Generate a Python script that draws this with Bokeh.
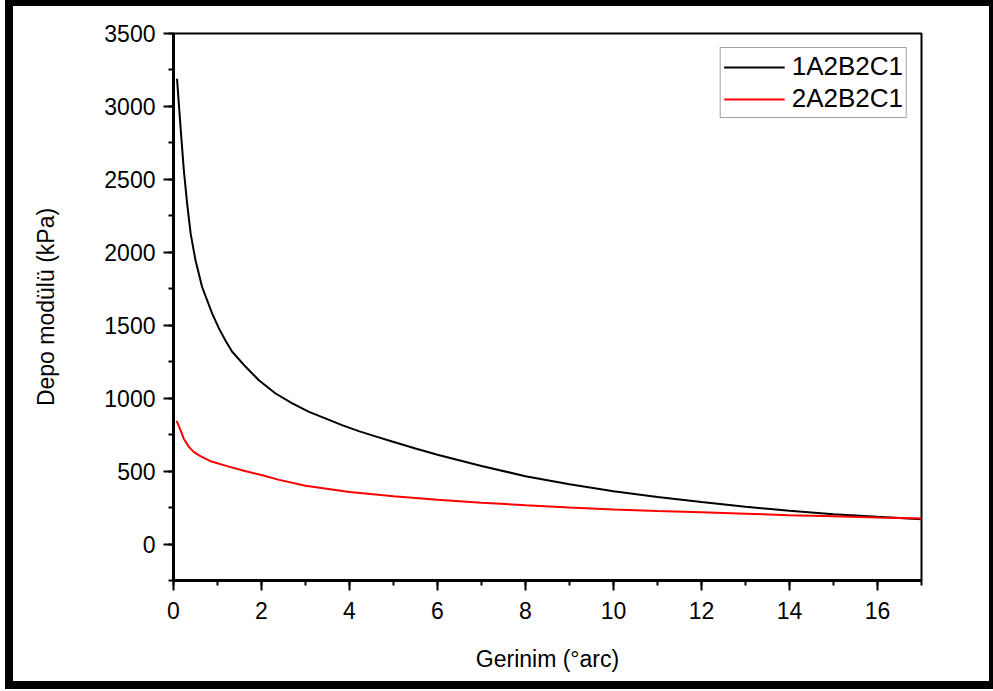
from bokeh.plotting import figure
from bokeh.models import Legend, LegendItem, FixedTicker, Range1d
from bokeh.embed import file_html
from bokeh.resources import INLINE

# Storage modulus vs. strain for the two formulations
strain_1 = [0.08, 0.16, 0.235, 0.31, 0.39, 0.5, 0.65, 0.88, 1.03, 1.18, 1.33, 1.64, 1.94, 2.32,
            2.70, 3.08, 3.45, 3.83, 4.21, 4.59, 4.97, 5.5, 6.0, 7.0, 8.0, 9.0, 10.0,
            11.0, 12.0, 13.0, 14.0, 15.0, 16.0, 17.0]
modulus_1 = [3190, 2858, 2562, 2334, 2128, 1945, 1762, 1580, 1480, 1395, 1320, 1215, 1123, 1032,
             964, 906, 861, 815, 774, 738, 703, 655, 612, 535, 465, 410, 362,
             322, 288, 255, 228, 205, 187, 170]

strain_2 = [0.07, 0.16, 0.23, 0.35, 0.46, 0.61, 0.84, 1.22, 1.6, 2.0, 2.4,
            3.0, 4.0, 5.0, 6.0, 7.0, 8.0, 9.0, 10.0, 11.0, 12.0, 13.0, 14.0, 15.0, 16.0, 17.0]
modulus_2 = [845, 781, 724, 666, 632, 603, 568, 534, 502, 473, 440,
             400, 356, 328, 303, 283, 266, 250, 237, 226, 218, 208, 198, 190, 182, 175]

series_names = ["1A2B2C1", "2A2B2C1"]
x_ticks = [0, 2, 4, 6, 8, 10, 12, 14, 16]
y_ticks = [0, 500, 1000, 1500, 2000, 2500, 3000, 3500]

FONT = "Liberation Sans"

p = figure(width=988, height=689, output_backend="svg", toolbar_location=None,
           x_range=Range1d(0, 17), y_range=Range1d(-250, 3500),
           min_border_left=160, min_border_right=80, min_border_top=27, min_border_bottom=115)

# heavy black frame around the whole page
p.styles = {"border-style": "solid", "border-color": "black",
            "border-width": "6px 4px 8px 8px", "margin-left": "5px"}

p.background_fill_color = "white"
p.border_fill_color = "white"
p.xgrid.visible = False
p.ygrid.visible = False
p.outline_line_color = "black"
p.outline_line_width = 2

r1 = p.line(strain_1, modulus_1, line_color="black", line_width=2)
r2 = p.line(strain_2, modulus_2, line_color="red", line_width=2)

for ax in (p.xaxis[0], p.yaxis[0]):
    ax.axis_line_width = 3
    ax.major_tick_line_width = 2
    ax.minor_tick_line_width = 2
    ax.major_tick_out = 10
    ax.major_tick_in = 0
    ax.minor_tick_out = 5
    ax.minor_tick_in = 0
    ax.major_label_text_font = FONT
    ax.major_label_text_font_size = "23px"
    ax.major_label_text_color = "black"
    ax.axis_label_text_font = FONT
    ax.axis_label_text_font_size = "23px"
    ax.axis_label_text_font_style = "normal"
    ax.axis_label_text_color = "black"

p.xaxis.major_label_standoff = 11
p.yaxis.major_label_standoff = 8

p.xaxis.ticker = FixedTicker(ticks=x_ticks, minor_ticks=list(range(0, 18)))
p.yaxis.ticker = FixedTicker(ticks=y_ticks, minor_ticks=list(range(-250, 3501, 250)))

p.xaxis.axis_label = "Gerinim (°arc)"
p.yaxis.axis_label = "Depo modülü (kPa)"
p.xaxis.axis_label_standoff = 24
p.yaxis.axis_label_standoff = 42

legend = Legend(items=[LegendItem(label=series_names[0], renderers=[r1]),
                       LegendItem(label=series_names[1], renderers=[r2])],
                location="top_right", margin=14, padding=3, spacing=1,
                glyph_width=61, glyph_height=26, label_height=26,
                label_standoff=7, label_text_font=FONT, label_text_font_size="26px",
                label_text_color="black", border_line_color="#444444",
                border_line_width=1, background_fill_color="white")
p.add_layout(legend)

open("out.html", "w").write(file_html(p, INLINE))
